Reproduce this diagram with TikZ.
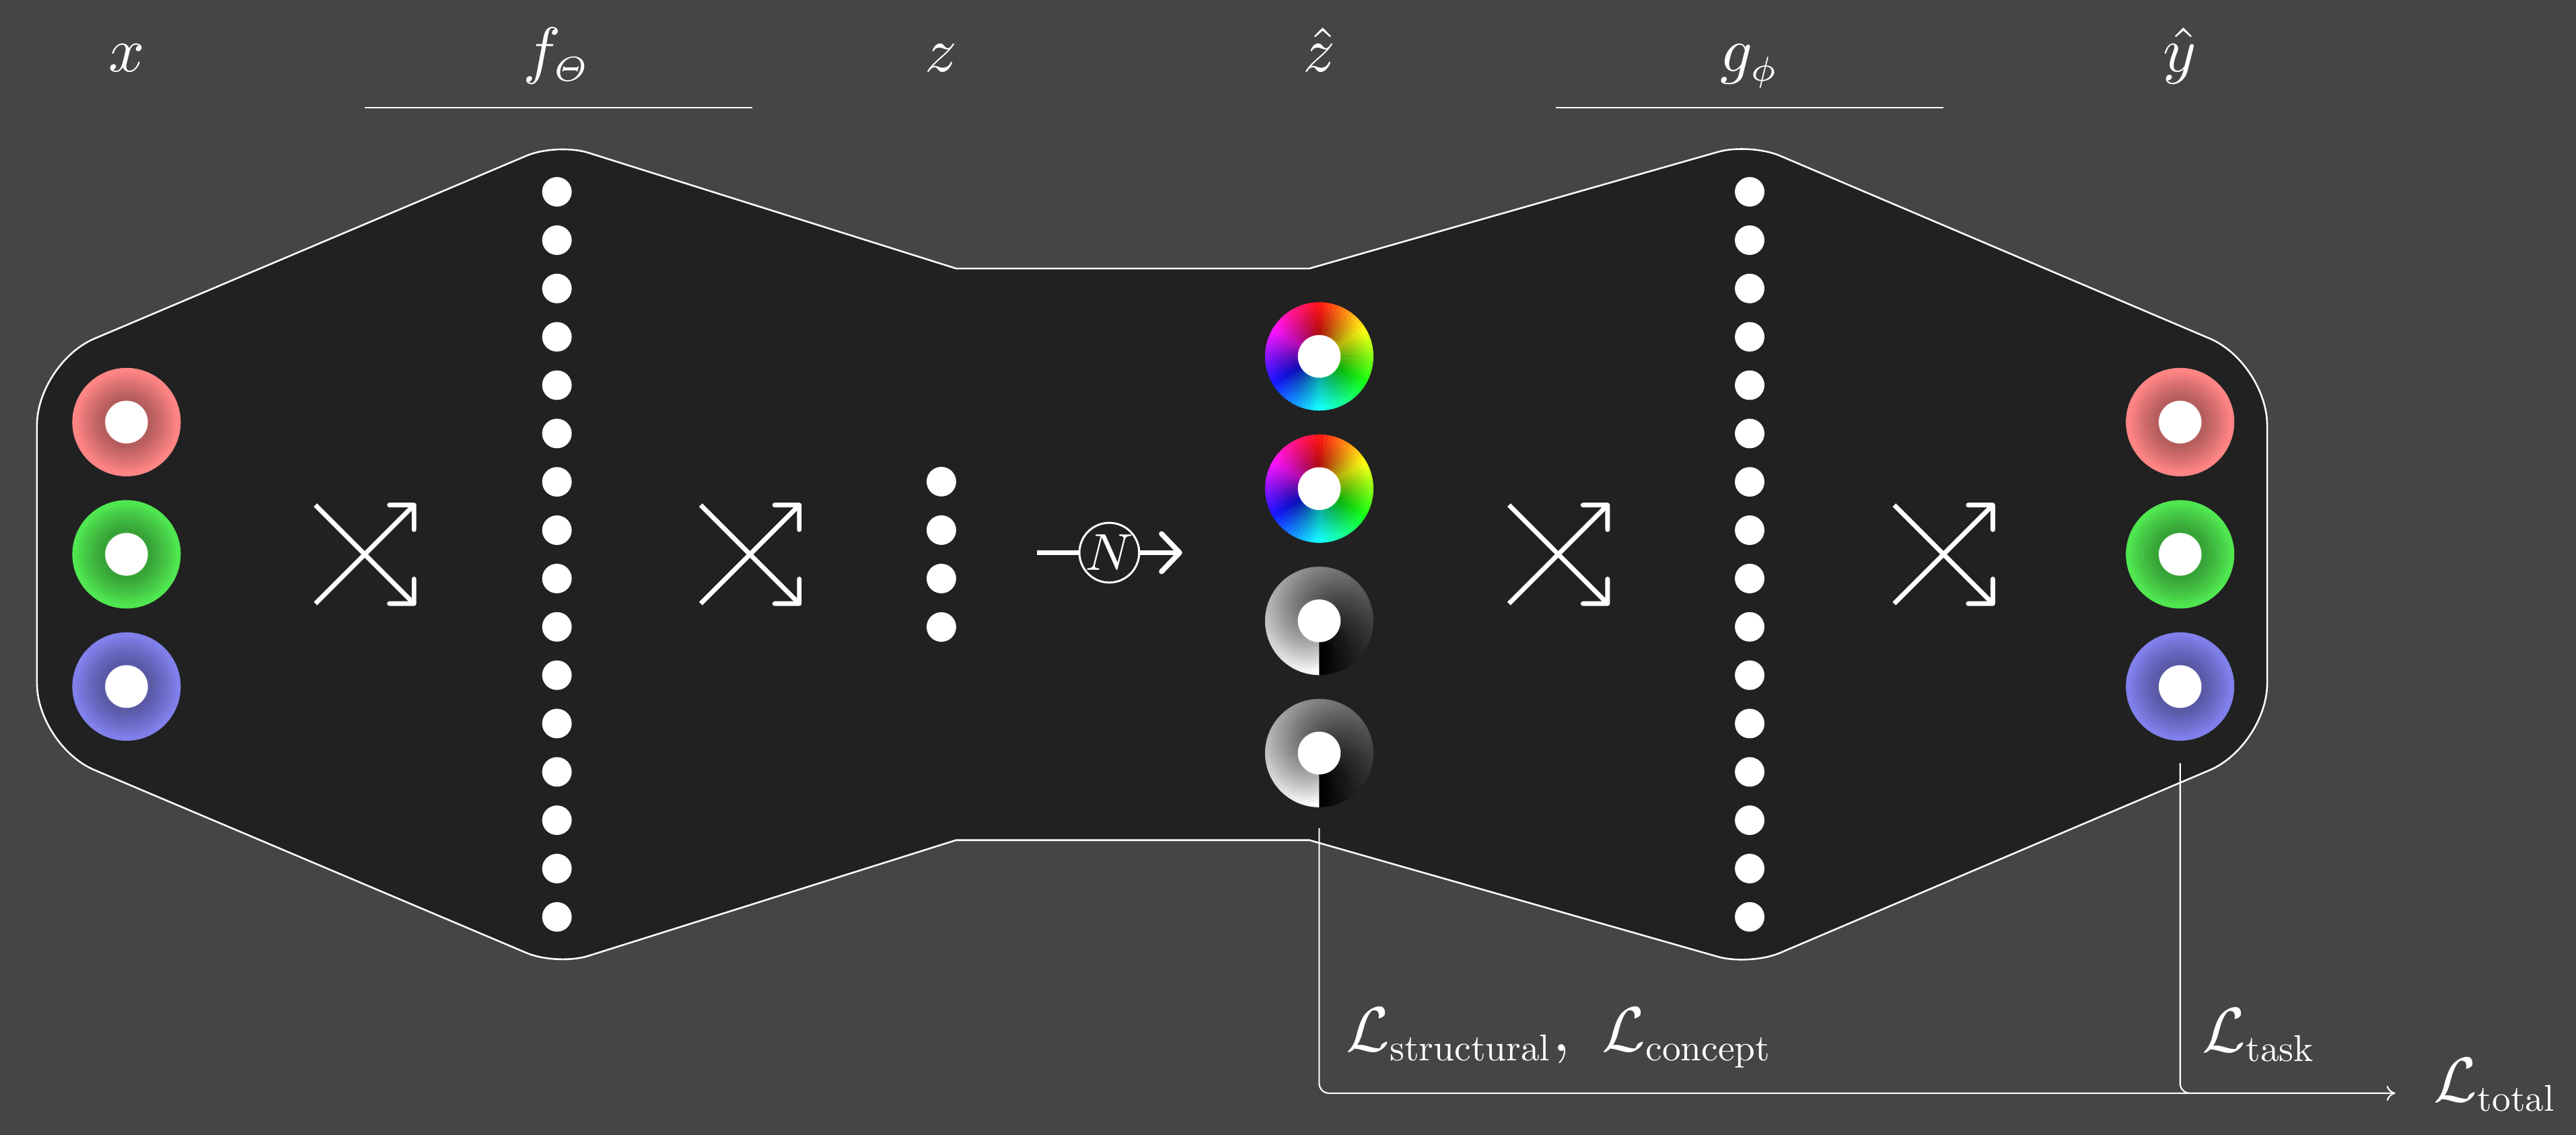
\documentclass[tikz,border=0pt,11pt]{standalone}
\usepackage{amsmath}
\usepackage{graphicx}
\usetikzlibrary{arrows.meta}

\definecolor{sfondo}{HTML}{454545}
\definecolor{corpo}{HTML}{212121}
\definecolor{rosso}{HTML}{FF8585}
\definecolor{verde}{HTML}{50E650}
\definecolor{blu}{HTML}{8080EB}

% pedice delle loss
\newcommand{\pedice}[1]{\hbox{\scalebox{0.59}{#1}}}

\tikzset{
  % contorno della rete
  net body/.style={draw=white, line width=0.3pt, fill=corpo},
  % neuroni nascosti
  neuron/.style={circle, fill=white, inner sep=0pt, minimum size=0.18cm},
  % anelli (ingresso, uscita, concetti)
  ring/.style={circle, inner sep=0pt, minimum size=0.66cm},
  % etichette
  layer label/.style={text=white, anchor=base},
  loss label/.style={text=white, anchor=base west},
  % linee delle loss
  loss line/.style={white, line width=0.25pt, rounded corners=0.6mm},
  % icona dei layer densi
  shuffle/.style={white, line width=0.8pt,
    -{Straight Barb[length=1.06mm, width=2.12mm, round]}}
}

\begin{document}
\begin{tikzpicture}
  \fill[sfondo] (0,-3.535) rectangle (15.68,3.375);
  \useasboundingbox (0,-3.535) rectangle (15.68,3.375);

  % corpo della rete
  \draw[net body] (5.82,1.74) [rounded corners=2mm] -- (3.39,2.505)
    [rounded corners=3.8mm] -- (0.225,1.165) -- (0.225,-1.165)
    [rounded corners=2mm] -- (3.39,-2.505)
    [sharp corners] -- (5.82,-1.74) -- (7.97,-1.74)
    [rounded corners=2mm] -- (10.65,-2.505)
    [rounded corners=3.8mm] -- (13.80,-1.165) -- (13.80,1.165)
    [rounded corners=2mm] -- (10.65,2.505)
    [sharp corners] -- (7.97,1.74) -- cycle;

  % etichette in alto
  \node[layer label] (lx) at (0.77,2.94) {$x$};
  \node[layer label] (lf) at (3.39,2.94) {$f_{\scriptscriptstyle\varTheta}$};
  \node[layer label] (lz) at (5.73,2.94) {$z$};
  \node[layer label] (lzh) at (8.03,2.94) {$\hat{z}$};
  \node[layer label] (lg) at (10.65,2.94) {$g_{\scriptscriptstyle\phi}$};
  \node[layer label] (lyh) at (13.27,2.94) {$\hat{y}$};
  \draw[white, line width=0.3pt] (2.22,2.72) -- (4.58,2.72);
  \draw[white, line width=0.3pt] (9.47,2.72) -- (11.83,2.72);

  % neuroni nascosti
  \foreach \i in {0,...,15} {
    \node[neuron] (f\i) at (3.39,{2.207-0.2943*\i}) {};
    \node[neuron] (g\i) at (10.65,{2.207-0.2943*\i}) {};
  }
  \foreach \i in {0,...,3}
    \node[neuron] (z\i) at (5.73,{0.4425-0.295*\i}) {};

  % layer densi
  \foreach \c in {2.22,4.565,9.485,11.83} {
    \draw[shuffle] (\c-0.30,0.30) -- (\c+0.31,-0.31);
    \draw[shuffle] (\c-0.30,-0.30) -- (\c+0.31,0.31);
  }

  % normalizzazione
  \node[circle, draw=white, line width=0.35pt, inner sep=0pt, minimum size=0.346cm,
        text=white, font=\footnotesize] (norm) at (6.752,0.01) {$N$};
  \coordinate (nin) at (6.31,0.01);
  \coordinate (nout) at (7.196,0.01);
  \draw[white, line width=0.9pt] (nin) -- (norm);
  \draw[white, line width=0.9pt, -{Straight Barb[length=1.1mm, width=2.3mm, round]}] (norm) -- (nout);

  % anelli di ingresso e uscita
  \foreach \nome/\x/\y/\col in {x1/0.77/0.805/rosso, x2/0.77/0/verde, x3/0.77/-0.805/blu,
                                y1/13.27/0.805/rosso, y2/13.27/0/verde, y3/13.27/-0.805/blu}
    \node[ring, fill=\col] (\nome) at (\x,\y) {};

  % concetti: ruota dei colori
  \foreach \nome/\y in {zh1/1.205, zh2/0.40} {
    \node[ring] (\nome) at (8.03,\y) {};
    \foreach \a in {0,5,...,355} {
      \pgfmathsetmacro\tinta{mod(447.5-\a,360)}
      \definecolor{spicchio}{Hsb}{\tinta,0.92,1}
      \fill[spicchio] (\nome.center) -- ++(\a:0.33) arc (\a:\a+5.5:0.33) -- cycle;
    }
  }
  % concetti: scala di grigi
  \foreach \nome/\y in {zh3/-0.405, zh4/-1.21} {
    \node[ring] (\nome) at (8.03,\y) {};
    \foreach \a in {0,5,...,355} {
      \pgfmathsetmacro\grigio{mod(\a+92.5,360)/360}
      \definecolor{spicchio}{gray}{\grigio}
      \fill[spicchio] (\nome.center) -- ++(\a:0.33) arc (\a:\a+5.5:0.33) -- cycle;
    }
  }

  % ombra interna e foro bianco
  \foreach \nome in {x1,x2,x3,y1,y2,y3,zh1,zh2,zh3,zh4} {
    \foreach \r in {0.30,0.28,...,0.15}
      \fill[black, opacity=0.04] (\nome.center) circle (\r);
    \fill[white] (\nome.center) circle (0.13);
  }

  % loss
  \node[loss label] (Lsc) at (8.06,-3.025)
    {$\mathcal{L}_{\pedice{structural}},\ \mathcal{L}_{\pedice{concept}}$};
  \node[loss label] (Ltask) at (13.27,-3.03) {$\mathcal{L}_{\pedice{task}}$};
  \node[loss label] (Ltot) at (14.68,-3.331) {$\mathcal{L}_{\pedice{total}}$};
  \draw[loss line, -{To[length=1.5pt, width=2.6pt]}] ([yshift=-0.12cm]zh4.south)
    |- ([xshift=-1mm, yshift=0.05cm]Ltot.base west);
  \draw[loss line] ([yshift=-0.13cm]y3.south)
    |- ([xshift=-1.5mm, yshift=0.05cm]Ltot.base west);
\end{tikzpicture}
\end{document}
